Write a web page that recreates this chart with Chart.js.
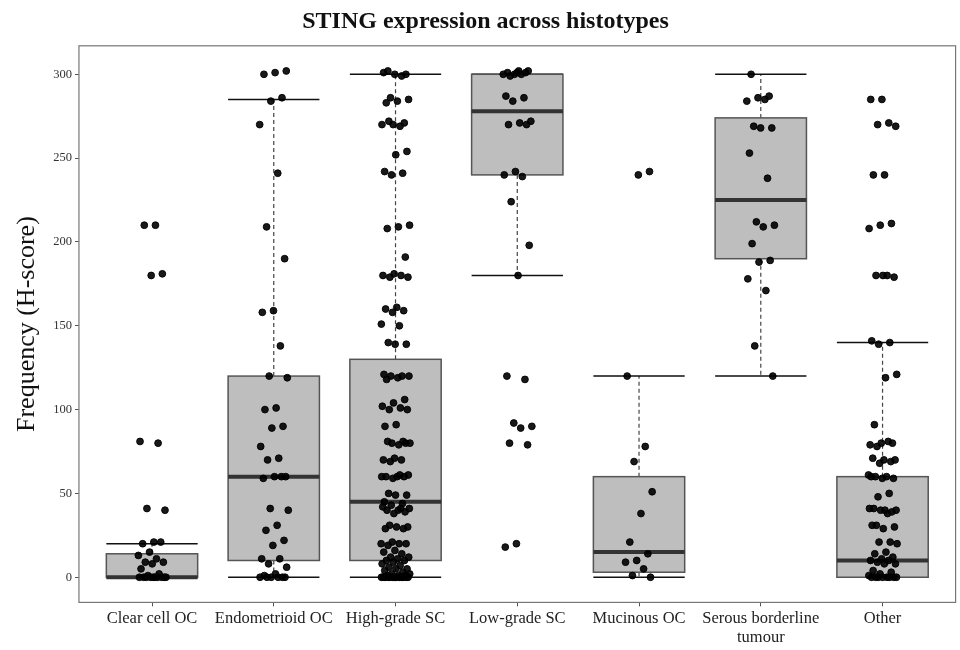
<!DOCTYPE html>
<html>
<head>
<meta charset="utf-8">
<script src="https://cdn.jsdelivr.net/npm/chart.js@4/dist/chart.umd.min.js"></script>
<style>
  body { margin: 0; background: #fff; }
  #wrap { width: 960px; height: 650px; }
</style>
</head>
<body>
<div id="wrap"><canvas id="myChart"></canvas></div>
<script>
const categories = ["Clear cell OC", "Endometrioid OC", "High-grade SC", "Low-grade SC", "Mucinous OC", ["Serous borderline", "tumour"], "Other"];

// box statistics
const q1 = [0, 10, 10, 240, 3, 190, 0];
const median = [0, 60, 45, 278, 15, 225, 10];
const q3 = [14, 120, 130, 300, 60, 274, 60];
const whiskerLow = [0, 0, 0, 180, 0, 120, 0];
const whiskerHigh = [20, 285, 300, 300, 120, 300, 140];

const yTicks = [0, 50, 100, 150, 200, 250, 300];

// individual H-scores (jittered points)
const clearCell = [210, 210, 181, 180, 81, 80, 41, 40, 21, 20, 21, 15, 13, 11, 9, 9, 8, 5, 2, 1, 0, 0, 0, 0, 0, 0, 0, 0, 0, 0];
const endometrioid = [302, 301, 300, 286, 284, 270, 241, 209, 190, 159, 158, 138, 120, 119, 101, 100, 90, 89, 78, 71, 70, 60, 60, 59, 60, 41, 40, 31, 28, 22, 19, 11, 11, 8, 6, 2, 1, 0, 0, 0, 0, 0, 0];
const highGrade = [302, 300, 300, 301, 299, 286, 285, 284, 283, 271, 270, 270, 269, 272, 254, 252, 242, 241, 240, 210, 209, 208, 191, 181, 180, 180, 179, 179, 161, 160, 159, 158, 151, 150, 140, 139, 139, 121, 120, 120, 120, 119, 118, 106, 104, 102, 101, 100, 100, 91, 90, 81, 80, 80, 79, 81, 80, 71, 70, 70, 69, 61, 60, 60, 60, 59, 60, 61, 50, 49, 49, 45, 44, 43, 41, 40, 40, 39, 38, 42, 41, 31, 30, 30, 29, 29, 21, 20, 20, 19, 20, 16, 15, 14, 12, 12, 11, 10, 10, 9, 8, 7, 6, 5, 5, 4, 3, 2, 2, 1, 1, 1, 0, 0, 0, 0, 0, 0, 0, 0, 0, 0, 0, 0, 0, 0, 0, 0];
const lowGrade = [302, 301, 301, 300, 300, 300, 299, 302, 301, 287, 286, 284, 272, 271, 270, 270, 242, 240, 239, 224, 198, 180, 120, 118, 92, 90, 89, 80, 79, 20, 18];
const mucinous = [242, 240, 120, 78, 69, 51, 38, 21, 14, 10, 9, 5, 1, 0];
const serous = [300, 287, 286, 284, 285, 269, 268, 268, 253, 238, 212, 210, 209, 199, 189, 188, 178, 171, 138, 120];
const other = [285, 285, 271, 270, 269, 240, 240, 211, 210, 208, 180, 180, 179, 180, 141, 140, 139, 121, 119, 91, 80, 80, 79, 81, 78, 70, 70, 71, 69, 68, 61, 60, 60, 59, 59, 60, 50, 48, 40, 40, 41, 39, 40, 41, 38, 31, 30, 29, 31, 21, 21, 20, 15, 14, 12, 11, 10, 10, 9, 8, 8, 4, 3, 2, 1, 0, 0, 0, 0, 0, 0, 0, 0];

const groups = [clearCell, endometrioid, highGrade, lowGrade, mucinous, serous, other];

// jitter, fixed so the picture is the same every run
const jitterWidth = 0.12;
const points = [];
groups.forEach(function(vals, g) {
    for (let k = 0; k < vals.length; k++) {
        const off = (((k + 1) * 0.618034 + g * 0.31) % 1 - 0.5) * 2 * jitterWidth;
        points.push({x: g + 1 + off, y: vals[k]});
    }
});

const boxHalf = 0.375;

const boxPlugin = {
    id: 'boxes',
    beforeDatasetsDraw(chart) {
        const c = chart.ctx;
        const xs = chart.scales.x;
        const ys = chart.scales.y;
        const area = chart.chartArea;
        c.save();
        for (let i = 0; i < categories.length; i++) {
            const xc = xs.getPixelForValue(i + 1);
            const xl = xs.getPixelForValue(i + 1 - boxHalf);
            const xr = xs.getPixelForValue(i + 1 + boxHalf);
            // dashed whiskers
            c.strokeStyle = '#444';
            c.lineWidth = 1.2;
            c.setLineDash([4, 3]);
            c.beginPath();
            c.moveTo(xc, ys.getPixelForValue(q3[i]));
            c.lineTo(xc, ys.getPixelForValue(whiskerHigh[i]));
            c.moveTo(xc, ys.getPixelForValue(q1[i]));
            c.lineTo(xc, ys.getPixelForValue(whiskerLow[i]));
            c.stroke();
            c.setLineDash([]);
            // caps
            c.strokeStyle = '#111';
            c.lineWidth = 1.5;
            c.beginPath();
            c.moveTo(xl, ys.getPixelForValue(whiskerHigh[i]));
            c.lineTo(xr, ys.getPixelForValue(whiskerHigh[i]));
            c.moveTo(xl, ys.getPixelForValue(whiskerLow[i]));
            c.lineTo(xr, ys.getPixelForValue(whiskerLow[i]));
            c.stroke();
            // box
            const yt = ys.getPixelForValue(q3[i]);
            const yb = ys.getPixelForValue(q1[i]);
            c.fillStyle = '#bebebe';
            c.fillRect(xl, yt, xr - xl, yb - yt);
            c.strokeStyle = '#555';
            c.lineWidth = 1.5;
            c.strokeRect(xl, yt, xr - xl, yb - yt);
            // median
            c.strokeStyle = '#333';
            c.lineWidth = 4;
            c.beginPath();
            c.moveTo(xl, ys.getPixelForValue(median[i]));
            c.lineTo(xr, ys.getPixelForValue(median[i]));
            c.stroke();
        }
        // panel border
        c.strokeStyle = '#777';
        c.lineWidth = 1.2;
        c.strokeRect(area.left, area.top, area.right - area.left, area.bottom - area.top);
        c.restore();
    }
};

const ctx = document.getElementById("myChart");

new Chart(ctx, {
    type: "scatter",
    data: {
        datasets: [{
            data: points,
            backgroundColor: "rgba(0,0,0,0.9)",
            borderColor: "rgba(0,0,0,0.9)",
            pointRadius: 3.4,
            pointHoverRadius: 3.4
        }]
    },
    options: {
        responsive: true,
        maintainAspectRatio: false,
        animation: false,
        layout: {padding: {right: 1, left: 12}},
        plugins: {
            legend: {display: false},
            tooltip: {enabled: false},
            title: {
                display: true,
                text: "STING expression across histotypes",
                color: "#111",
                font: {family: "Liberation Serif", size: 24, weight: "bold"},
                padding: {top: 7, bottom: 10}
            }
        },
        scales: {
            x: {
                type: "linear",
                min: 0.4,
                max: 7.6,
                afterBuildTicks: function(axis) {
                    axis.ticks = categories.map(function(c, i) { return {value: i + 1}; });
                },
                ticks: {
                    callback: function(v) { return categories[v - 1]; },
                    color: "#222",
                    font: {family: "Liberation Serif", size: 16.5},
                    maxRotation: 0,
                    autoSkip: false,
                    padding: 2
                },
                grid: {drawOnChartArea: false, drawTicks: true, tickLength: 4, color: "#555"},
                border: {display: false}
            },
            y: {
                min: -15,
                max: 317,
                afterBuildTicks: function(axis) {
                    axis.ticks = yTicks.map(function(v) { return {value: v}; });
                },
                ticks: {
                    color: "#333",
                    font: {family: "Liberation Serif", size: 12.5},
                    padding: 3
                },
                title: {
                    display: true,
                    text: "Frequency (H-score)",
                    color: "#111",
                    font: {family: "Liberation Serif", size: 26},
                    padding: {top: 0, bottom: 7}
                },
                grid: {drawOnChartArea: false, drawTicks: true, tickLength: 4, color: "#555"},
                border: {display: false}
            }
        }
    },
    plugins: [boxPlugin]
});
</script>
</body>
</html>
